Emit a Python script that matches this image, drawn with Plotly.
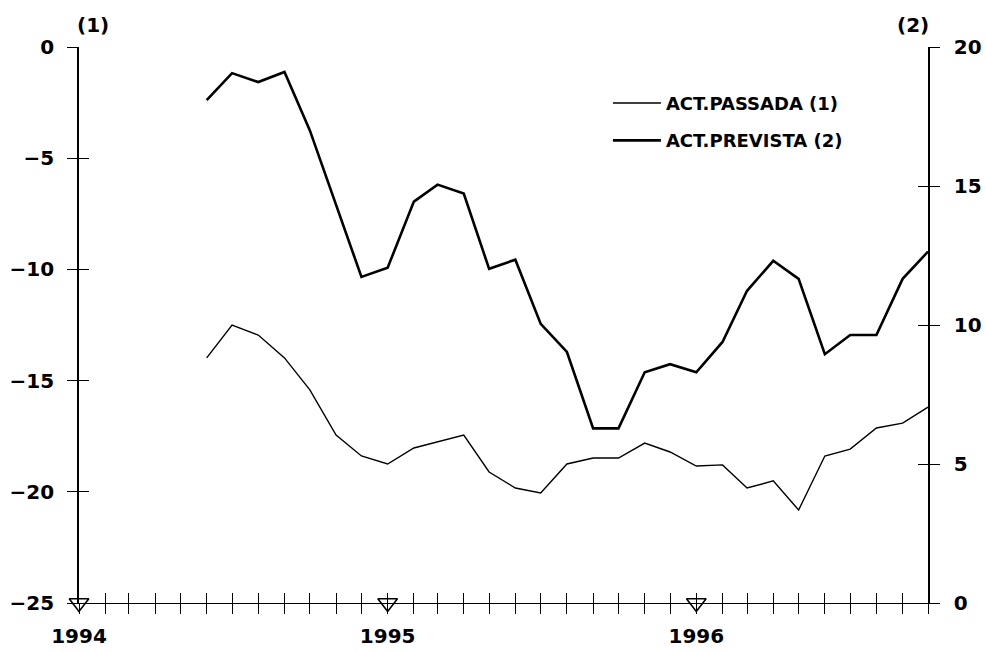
import plotly.graph_objects as go
import pandas as pd

# Monthly dates, June 1994 .. October 1996
months = pd.date_range("1994-06-01", "1996-10-01", freq="MS").strftime("%Y-%m-%d").tolist()

act_passada = [-13.98, -12.50, -12.95, -13.98, -15.42, -17.45, -18.39, -18.75, -18.03, -17.76,
               -17.45, -19.11, -19.83, -20.05, -18.75, -18.48, -18.48, -17.81, -18.21, -18.84,
               -18.79, -19.83, -19.51, -20.82, -18.39, -18.08, -17.13, -16.91, -16.19]
act_prevista = [18.09, 19.06, 18.74, 19.10, 17.00, 14.30, 11.73, 12.06, 14.44, 15.05,
                14.73, 12.02, 12.35, 10.04, 9.03, 6.28, 6.28, 8.30, 8.59, 8.30,
                9.39, 11.23, 12.31, 11.66, 8.95, 9.64, 9.64, 11.66, 12.64]

x_ticks = pd.date_range("1994-01-01", "1996-10-01", freq="MS").strftime("%Y-%m-%d").tolist()
year_ticks = ["1994-01-01", "1995-01-01", "1996-01-01"]
year_labels = ["1994", "1995", "1996"]
x_ticktext = [year_labels[year_ticks.index(t)] if t in year_ticks else "" for t in x_ticks]
left_ticks = [-25, -20, -15, -10, -5, 0]
right_ticks = [0, 5, 10, 15, 20]
left_range = [-25, 0]
right_range = [0, 20]

FONT = "DejaVu Sans"
tickfont = dict(family=FONT, size=20, color="black", weight="bold")

fig = go.Figure()
fig.add_trace(go.Scatter(x=months, y=act_passada, mode="lines", name="ACT.PASSADA (1)",
                         line=dict(color="black", width=1.4), legendgroup="a",
                         xaxis="x", yaxis="y"))
fig.add_trace(go.Scatter(x=months, y=act_prevista, mode="lines", name="ACT.PREVISTA (2)",
                         line=dict(color="black", width=2.6), legendgroup="b",
                         xaxis="x", yaxis="y2"))
# year markers on the time axis
fig.add_trace(go.Scatter(x=year_ticks, y=[left_range[0]] * len(year_ticks), mode="markers",
                         marker=dict(symbol="triangle-down-open", size=17, color="black",
                                     line=dict(width=1.6, color="black")),
                         showlegend=False, cliponaxis=False, hoverinfo="skip",
                         xaxis="x2", yaxis="y3"))
# dummy invisible trace so the inner right-tick axis renders
fig.add_trace(go.Scatter(x=[x_ticks[0]], y=[right_range[0]], mode="markers",
                         marker=dict(opacity=0), showlegend=False, hoverinfo="skip",
                         xaxis="x", yaxis="y4"))

common_x = dict(type="date", range=[x_ticks[0], x_ticks[-1]], tickmode="array",
                tickvals=x_ticks, showgrid=False, zeroline=False, automargin=False,
                ticklen=10, tickwidth=1.3, tickcolor="black")
common_y = dict(tickmode="array", ticklen=10, tickwidth=1.3, tickcolor="black",
                showgrid=False, zeroline=False, automargin=False)

fig.update_layout(
    width=986, height=651,
    margin=dict(l=79, r=58, t=47, b=48),
    paper_bgcolor="white", plot_bgcolor="white",
    showlegend=True,
    legend=dict(x=0.623, y=0.932, xanchor="left", yanchor="top",
                font=dict(family=FONT, size=18, color="black", weight="bold"),
                bgcolor="rgba(0,0,0,0)", tracegroupgap=11, traceorder="grouped",
                itemwidth=48),
    xaxis=dict(**common_x, ticktext=x_ticktext, ticks="outside",
               showline=True, linecolor="black", linewidth=1.3,
               tickfont=tickfont, ticklabelstandoff=5),
    xaxis2=dict(**common_x, overlaying="x", anchor="y3", side="bottom",
                ticks="inside", showticklabels=False, showline=False),
    yaxis=dict(**common_y, range=left_range, tickvals=left_ticks, ticks="outside",
               showline=True, linecolor="black", linewidth=1.6,
               tickfont=tickfont, ticklabelstandoff=9),
    yaxis2=dict(**common_y, range=right_range, tickvals=right_ticks, ticks="outside",
                showline=True, linecolor="black", linewidth=1.6,
                overlaying="y", side="right", anchor="x",
                tickfont=tickfont, ticklabelstandoff=10),
    yaxis3=dict(**common_y, range=left_range, tickvals=left_ticks, ticks="inside",
                showline=False, showticklabels=False,
                overlaying="y", side="left", anchor="x"),
    yaxis4=dict(**common_y, range=right_range, tickvals=right_ticks, ticks="inside",
                showline=False, showticklabels=False,
                overlaying="y", side="right", anchor="x"),
    annotations=[
        dict(text="(1)", x=0.0165, y=1.04, xref="paper", yref="paper", showarrow=False,
             font=tickfont, xanchor="center", yanchor="middle"),
        dict(text="(2)", x=0.982, y=1.04, xref="paper", yref="paper", showarrow=False,
             font=tickfont, xanchor="center", yanchor="middle"),
    ],
)

fig.write_html("out.html", config={"displayModeBar": False},
               post_script="document.body.style.margin='0';document.body.style.overflow='hidden';")
